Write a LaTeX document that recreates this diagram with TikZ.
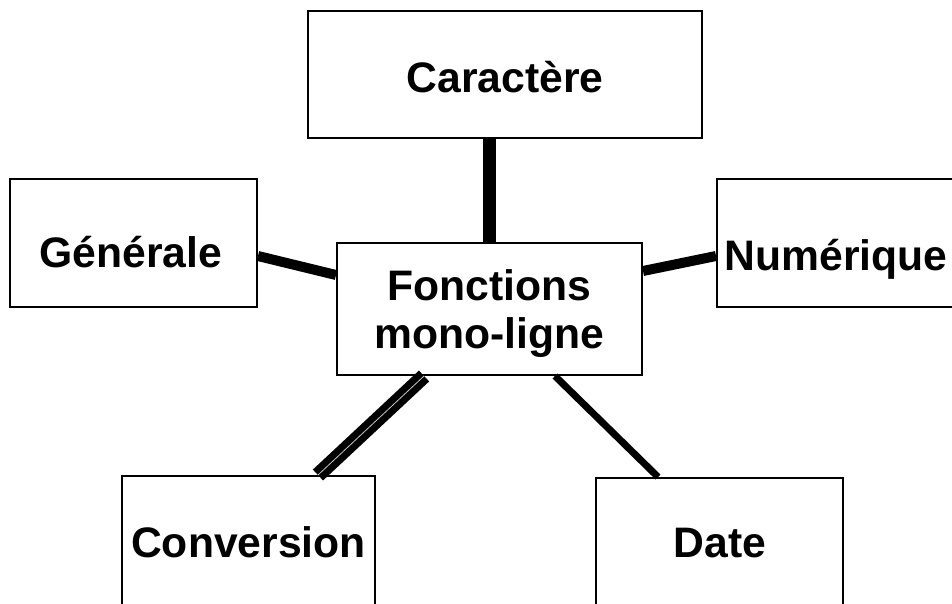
\documentclass[tikz,border=0pt]{standalone}
\usepackage{fontspec}
\setmainfont{Liberation Sans}
\begin{document}
\begin{tikzpicture}[x=0.75pt,y=-0.75pt,
  box/.style={draw=black, line width=1.5pt, fill=white, rectangle, inner sep=0pt},
  lbl/.style={anchor=base, inner sep=0pt, font=\fontsize{32}{38}\selectfont\bfseries},
  conn/.style={draw=black, line width=7.5pt}]
\useasboundingbox (0,0) rectangle (952,603);
\clip (0,0) rectangle (952,603);
\fill[white] (0,0) rectangle (952,603);
% boxes
\node[box, minimum width=295.5pt, minimum height=95.25pt] (car) at (505,74.5) {};
\node[box, minimum width=185.25pt, minimum height=96pt] (gen) at (133.5,243) {};
\node[box, minimum width=185.25pt, minimum height=96pt] (num) at (840.5,243) {};
\node[box, minimum width=228.75pt, minimum height=99pt] (cen) at (489.5,309) {};
\node[box, minimum width=189.75pt, minimum height=105pt] (conv) at (248.5,546) {};
\node[box, minimum width=185.25pt, minimum height=105pt] (date) at (719.5,548) {};
% labels
\node[lbl] (car-t) at (505,92) {Caractère};
\node[lbl] (gen-t) at (131,267) {Générale};
\node[lbl] (num-t) at (836,270) {Numérique};
\node[lbl] (cen-t1) at (489.5,300) {Fonctions};
\node[lbl] (cen-t2) at (489.5,348) {mono-ligne};
\node[lbl] (conv-t) at (248.5,557) {Conversion};
\node[lbl] (date-t) at (720,557) {Date};
% connectors
\draw[conn, line width=9.75pt] (cen.north) -- (cen.north |- car.south);
\draw[conn] ([yshift=-9.75pt]gen.east) -- ([yshift=25.5pt]cen.west);
\draw[conn] ([yshift=-9.75pt]num.west) -- ([yshift=28.5pt]cen.east);
\draw[draw=black, line width=5.3pt, double=gray!45, double distance=0.6pt]
  ([xshift=-49.1pt]cen.south) -- ([xshift=52.1pt]conv.north);
\draw[conn, line width=5.25pt] ([xshift=49.1pt]cen.south) -- ([xshift=-46.1pt]date.north);
\end{tikzpicture}
\end{document}
